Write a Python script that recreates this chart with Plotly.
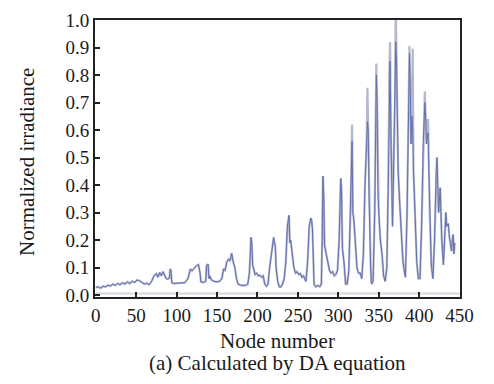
import plotly.graph_objects as go

# ---- data ----
nodes = [0, 3, 6, 9, 12, 15, 18, 21, 24, 27, 30, 33, 36, 39, 42, 45, 48, 51, 54, 57,
         60, 63, 66, 69, 72, 75, 77, 79, 81, 83, 85, 87, 89, 91, 92, 93, 94, 96, 100, 105,
         110, 114, 117, 119, 122, 125, 127, 129, 130, 133, 136, 137, 139, 140, 141, 143, 146, 150, 153, 156,
         158, 160, 162, 164, 166, 168, 170, 172, 174, 176, 180, 185, 188, 190, 192, 193, 194, 195, 197, 199,
         201, 203, 205, 207, 209, 211, 213, 215, 217, 219, 220, 221, 222, 223, 225, 227, 229, 231, 233, 235,
         237, 239, 240, 241, 243, 245, 247, 249, 251, 253, 255, 257, 259, 260, 262, 264, 266, 267, 268, 269,
         270, 272, 275, 277, 279, 280, 281, 282, 283, 285, 287, 289, 291, 293, 295, 297, 299, 301, 303, 304,
         305, 307, 309, 311, 313, 315, 317, 318, 319, 321, 323, 325, 327, 329, 331, 333, 335, 336, 337, 338,
         340, 341, 343, 345, 347, 348, 349, 350, 352, 354, 356, 358, 360, 362, 363, 364, 365, 366, 367, 368,
         370, 371, 372, 373, 374, 376, 378, 380, 382, 383, 385, 387, 388, 389, 390, 391, 392, 393, 395, 397,
         399, 401, 403, 405, 407, 408, 409, 411, 412, 413, 415, 417, 419, 421, 422, 423, 424, 426, 427, 428,
         430, 431, 433, 434, 436, 437, 438, 440, 441, 442, 443, 444]

irr_blue = [0.028, 0.030, 0.025, 0.032, 0.030, 0.036, 0.033, 0.040, 0.035, 0.042, 0.038, 0.045, 0.040, 0.048, 0.042, 0.050, 0.046, 0.055, 0.052, 0.045,
            0.040, 0.043, 0.038, 0.050, 0.070, 0.078, 0.065, 0.082, 0.070, 0.085, 0.072, 0.060, 0.058, 0.062, 0.095, 0.090, 0.045, 0.042, 0.043, 0.043,
            0.045, 0.060, 0.095, 0.088, 0.100, 0.108, 0.110, 0.080, 0.048, 0.046, 0.050, 0.108, 0.112, 0.060, 0.070, 0.055, 0.050, 0.048, 0.050, 0.060,
            0.095, 0.090, 0.120, 0.130, 0.125, 0.152, 0.120, 0.100, 0.060, 0.040, 0.035, 0.035, 0.040, 0.080, 0.210, 0.190, 0.110, 0.100, 0.075, 0.080,
            0.070, 0.072, 0.065, 0.070, 0.040, 0.032, 0.040, 0.100, 0.140, 0.180, 0.210, 0.190, 0.180, 0.100, 0.050, 0.030, 0.030, 0.040, 0.060, 0.120,
            0.250, 0.290, 0.190, 0.200, 0.150, 0.100, 0.080, 0.085, 0.075, 0.078, 0.065, 0.070, 0.055, 0.050, 0.120, 0.250, 0.280, 0.270, 0.240, 0.120,
            0.040, 0.030, 0.035, 0.030, 0.040, 0.200, 0.433, 0.350, 0.180, 0.150, 0.120, 0.090, 0.080, 0.085, 0.070, 0.075, 0.090, 0.200, 0.424, 0.380,
            0.170, 0.120, 0.040, 0.040, 0.090, 0.300, 0.560, 0.300, 0.280, 0.200, 0.100, 0.080, 0.080, 0.060, 0.150, 0.400, 0.550, 0.630, 0.600, 0.350,
            0.100, 0.040, 0.050, 0.300, 0.800, 0.700, 0.360, 0.300, 0.200, 0.150, 0.070, 0.050, 0.100, 0.450, 0.800, 0.850, 0.600, 0.400, 0.250, 0.400,
            0.700, 0.920, 0.850, 0.550, 0.450, 0.330, 0.200, 0.120, 0.080, 0.065, 0.300, 0.700, 0.880, 0.750, 0.550, 0.650, 0.600, 0.450, 0.250, 0.120,
            0.060, 0.060, 0.250, 0.550, 0.700, 0.650, 0.550, 0.590, 0.450, 0.300, 0.110, 0.060, 0.200, 0.450, 0.500, 0.400, 0.300, 0.390, 0.300, 0.200,
            0.110, 0.180, 0.300, 0.250, 0.260, 0.220, 0.200, 0.160, 0.200, 0.220, 0.150, 0.190]

irr_gray = [0.028, 0.030, 0.025, 0.032, 0.030, 0.036, 0.033, 0.040, 0.035, 0.042, 0.038, 0.045, 0.040, 0.048, 0.042, 0.050, 0.046, 0.055, 0.052, 0.045,
            0.040, 0.043, 0.038, 0.050, 0.070, 0.078, 0.065, 0.082, 0.070, 0.085, 0.072, 0.060, 0.058, 0.062, 0.095, 0.090, 0.045, 0.042, 0.043, 0.043,
            0.045, 0.060, 0.095, 0.088, 0.100, 0.108, 0.110, 0.080, 0.048, 0.046, 0.050, 0.108, 0.112, 0.060, 0.070, 0.055, 0.050, 0.048, 0.050, 0.060,
            0.095, 0.090, 0.120, 0.130, 0.125, 0.152, 0.120, 0.100, 0.060, 0.040, 0.035, 0.035, 0.040, 0.080, 0.210, 0.190, 0.110, 0.100, 0.075, 0.080,
            0.070, 0.072, 0.065, 0.070, 0.040, 0.032, 0.040, 0.100, 0.140, 0.180, 0.210, 0.190, 0.180, 0.100, 0.050, 0.030, 0.030, 0.040, 0.060, 0.120,
            0.250, 0.290, 0.190, 0.200, 0.150, 0.100, 0.080, 0.085, 0.075, 0.078, 0.065, 0.070, 0.055, 0.050, 0.120, 0.250, 0.280, 0.270, 0.240, 0.120,
            0.040, 0.030, 0.035, 0.030, 0.040, 0.200, 0.433, 0.350, 0.180, 0.150, 0.120, 0.090, 0.080, 0.085, 0.070, 0.075, 0.090, 0.200, 0.424, 0.380,
            0.170, 0.120, 0.040, 0.040, 0.090, 0.300, 0.620, 0.300, 0.280, 0.200, 0.100, 0.080, 0.080, 0.060, 0.150, 0.400, 0.550, 0.754, 0.600, 0.350,
            0.100, 0.040, 0.050, 0.300, 0.842, 0.700, 0.360, 0.300, 0.200, 0.150, 0.070, 0.050, 0.100, 0.450, 0.800, 0.920, 0.600, 0.400, 0.250, 0.400,
            0.700, 1.050, 0.850, 0.550, 0.450, 0.330, 0.200, 0.120, 0.080, 0.065, 0.300, 0.700, 0.905, 0.750, 0.550, 0.650, 0.895, 0.450, 0.250, 0.120,
            0.060, 0.060, 0.250, 0.550, 0.740, 0.650, 0.550, 0.640, 0.450, 0.300, 0.110, 0.060, 0.200, 0.450, 0.500, 0.400, 0.300, 0.390, 0.300, 0.200,
            0.110, 0.180, 0.300, 0.250, 0.260, 0.220, 0.200, 0.160, 0.200, 0.220, 0.150, 0.190]

baseline_nodes = [0, 450]
baseline_vals = [0.006, 0.006]

x_ticks = [0, 50, 100, 150, 200, 250, 300, 350, 400, 450]
y_ticks = [0.0, 0.1, 0.2, 0.3, 0.4, 0.5, 0.6, 0.7, 0.8, 0.9, 1.0]
y_tick_text = ["0.0", "0.1", "0.2", "0.3", "0.4", "0.5", "0.6", "0.7", "0.8", "0.9", "1.0"]

FONT = "Liberation Serif"
TEXT_COLOR = "#1a1a1a"

fig = go.Figure()
fig.add_trace(go.Scatter(x=baseline_nodes, y=baseline_vals, mode="lines",
                         line=dict(color="#d4d6de", width=2), hoverinfo="skip"))
fig.add_trace(go.Scatter(x=nodes, y=irr_gray, mode="lines",
                         line=dict(color="#b4b8cc", width=2.2)))
fig.add_trace(go.Scatter(x=nodes, y=irr_blue, mode="lines",
                         line=dict(color="#6470b0", width=1)))

fig.update_layout(
    width=494, height=384,
    margin=dict(l=95, r=34, t=10, b=87),
    paper_bgcolor="white", plot_bgcolor="white",
    showlegend=False,
    font=dict(family=FONT, color=TEXT_COLOR),
)
fig.update_xaxes(range=[-1, 450.5], tickvals=x_ticks,
                 showline=True, linecolor="#222222", linewidth=2, mirror=True,
                 ticks="inside", ticklen=5, tickwidth=1.5, tickcolor="#222222",
                 showgrid=False, zeroline=False,
                 tickfont=dict(family=FONT, size=19, color=TEXT_COLOR))
fig.update_yaxes(range=[-0.007, 1.0], tickvals=y_ticks, ticktext=y_tick_text,
                 showline=True, linecolor="#222222", linewidth=2, mirror=True,
                 ticks="inside", ticklen=5, tickwidth=1.5, tickcolor="#222222",
                 showgrid=False, zeroline=False,
                 tickfont=dict(family=FONT, size=19, color=TEXT_COLOR))

fig.add_annotation(text="Normalized irradiance", xref="paper", yref="paper", x=-0.186, y=0.488,
                   textangle=-90, showarrow=False, xanchor="center", yanchor="middle",
                   font=dict(family=FONT, size=21, color=TEXT_COLOR))
fig.add_annotation(text="Node number", xref="paper", yref="paper", x=0.5, y=-0.160,
                   showarrow=False, xanchor="center", yanchor="middle",
                   font=dict(family=FONT, size=21, color=TEXT_COLOR))
fig.add_annotation(text="(a) Calculated by DA equation", xref="paper", yref="paper", x=0.5, y=-0.240,
                   showarrow=False, xanchor="center", yanchor="middle",
                   font=dict(family=FONT, size=21, color=TEXT_COLOR))

fig.write_html("out.html")
